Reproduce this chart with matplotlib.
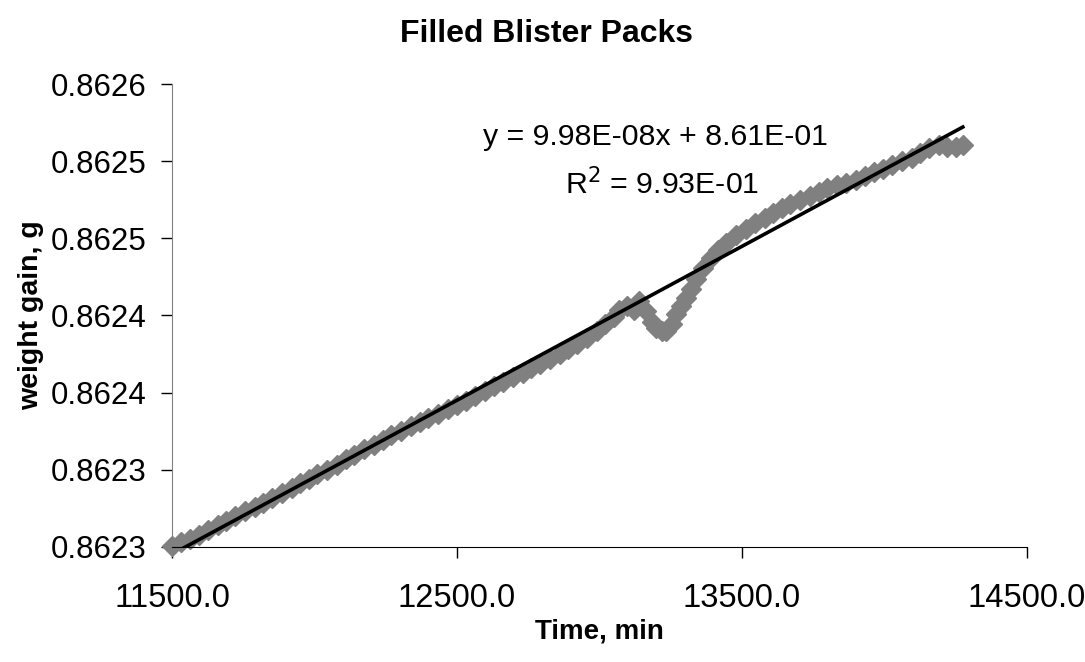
import matplotlib
matplotlib.use("Agg")
import matplotlib.pyplot as plt
import numpy as np

plt.rcParams["font.family"] = ["Liberation Sans", "DejaVu Sans"]

# blister pack weight log, min vs g
time_min = [
    11500, 11530, 11565, 11595, 11625, 11660, 11690, 11720, 11755, 11790,
    11820, 11850, 11885, 11920, 11950, 11980, 12010, 12045, 12080, 12110,
    12140, 12175, 12210, 12240, 12270, 12305, 12340, 12370, 12400, 12435,
    12470, 12500, 12530, 12565, 12600, 12630, 12660, 12695, 12730, 12760,
    12790, 12825, 12860, 12890, 12920, 12955, 12990, 13020, 13050, 13070,
    13095, 13120, 13140, 13165, 13185, 13200, 13220, 13235, 13255, 13270,
    13285, 13305, 13320, 13340, 13365, 13390, 13415, 13445, 13480, 13515,
    13545, 13580, 13610, 13640, 13670, 13705, 13740, 13770, 13800, 13835,
    13865, 13900, 13930, 13965, 13995, 14025, 14060, 14095, 14125, 14155,
    14190, 14220, 14250, 14275,
]
weight_g = [
    0.8623006, 0.8623032, 0.8623052, 0.8623078, 0.8623110, 0.8623143, 0.8623169, 0.8623201, 0.8623233, 0.8623259,
    0.8623285, 0.8623318, 0.8623350, 0.8623383, 0.8623415, 0.8623441, 0.8623473, 0.8623499, 0.8623532, 0.8623571,
    0.8623597, 0.8623636, 0.8623662, 0.8623694, 0.8623726, 0.8623752, 0.8623785, 0.8623811, 0.8623837, 0.8623863,
    0.8623895, 0.8623921, 0.8623947, 0.8623979, 0.8624012, 0.8624044, 0.8624070, 0.8624103, 0.8624128, 0.8624161,
    0.8624187, 0.8624219, 0.8624252, 0.8624284, 0.8624317, 0.8624355, 0.8624401, 0.8624446, 0.8624492, 0.8624537,
    0.8624563, 0.8624537, 0.8624595, 0.8624530, 0.8624459, 0.8624420, 0.8624401, 0.8624401, 0.8624446, 0.8624511,
    0.8624563, 0.8624615, 0.8624673, 0.8624738, 0.8624809, 0.8624874, 0.8624926, 0.8624971, 0.8625023, 0.8625062,
    0.8625101, 0.8625134, 0.8625166, 0.8625198, 0.8625224, 0.8625250, 0.8625276, 0.8625302, 0.8625328, 0.8625348,
    0.8625361, 0.8625380, 0.8625406, 0.8625432, 0.8625451, 0.8625477, 0.8625503, 0.8625523, 0.8625555, 0.8625588,
    0.8625607, 0.8625594, 0.8625594, 0.8625607,
]

# linear trendline
SLOPE = 9.98e-08
INTERCEPT = 0.8611475
R_SQUARED = 0.993

x_ticks = [11500, 12500, 13500, 14500]
y_ticks = [0.86230, 0.86235, 0.86240, 0.86245, 0.86250, 0.86255, 0.86260]
y_tick_labels = ["0.8623", "0.8623", "0.8624", "0.8624", "0.8625", "0.8625", "0.8626"]


def sci(value):
    mantissa, exponent = f"{value:.2E}".split("E")
    return f"{mantissa}E{int(exponent):+03d}".replace("+", "")


fig = plt.figure(figsize=(10.85, 6.62), dpi=100)
ax = fig.add_axes([0.1585, 0.174, 0.788, 0.699])

ax.plot(time_min, weight_g, linestyle="none", marker="D", markersize=10,
        color="#808080", markeredgecolor="#808080", clip_on=False, zorder=2)

fit_x = np.array([time_min[0], time_min[-1]], dtype=float)
ax.plot(fit_x, SLOPE * fit_x + INTERCEPT, color="black", linewidth=2.6, zorder=3)

ax.set_xlim(11500, 14500)
ax.set_ylim(0.86230, 0.86260)
ax.set_xticks(x_ticks)
ax.set_xticklabels([f"{t:.1f}" for t in x_ticks])
ax.set_yticks(y_ticks)
ax.set_yticklabels(y_tick_labels)

for side in ["top", "right"]:
    ax.spines[side].set_visible(False)
ax.spines["left"].set_color("#808080")
ax.spines["bottom"].set_color("black")
ax.tick_params(axis="both", direction="out", length=8, width=1, colors="black")
ax.tick_params(axis="y", labelsize=22.5, pad=10)
ax.tick_params(axis="x", labelsize=23.5, pad=18)

fig.text(0.504, 0.948, "Filled Blister Packs", fontsize=23, fontweight="bold",
         ha="center", va="center")
ax.set_xlabel("Time, min", fontsize=20, fontweight="bold", labelpad=3)
ax.set_ylabel("weight gain, g", fontsize=20.5, fontweight="bold", labelpad=5)

ax.text(0.565, 0.885, f"y = {sci(SLOPE)}x + {sci(INTERCEPT)}", transform=ax.transAxes,
        ha="center", va="center", fontsize=21.8)
ax.text(0.573, 0.784, f"R$^2$ = {sci(R_SQUARED)}", transform=ax.transAxes,
        ha="center", va="center", fontsize=21.8)

fig.savefig("out.png", dpi=100)
